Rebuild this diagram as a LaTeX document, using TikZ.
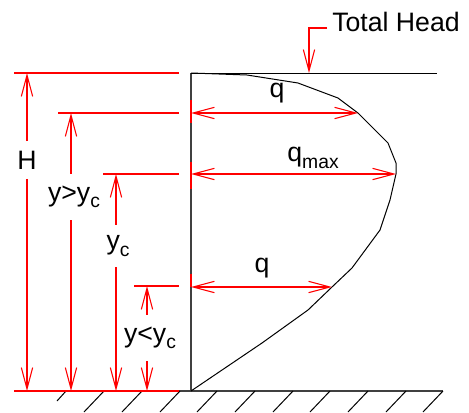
\documentclass[tikz,border=0pt]{standalone}
\usepackage{fontspec}
\setmainfont{Liberation Sans}
\usetikzlibrary{arrows.meta}
\newcommand\lowsub[1]{\raisebox{-0.45ex}{\fontsize{14.5pt}{14.5pt}\selectfont #1}}
\begin{document}
\begin{tikzpicture}[x=0.75pt,y=-0.75pt,
  dim/.style={red, line width=0.85pt},
  barb/.tip={Straight Barb[length=16pt,width=8.5pt,line width=0.8pt]},
  arr/.style={dim, -barb},
  darr/.style={dim, barb-barb},
  lbl/.style={font=\fontsize{20pt}{20pt}\selectfont, inner sep=0pt},
  vlbl/.style={lbl, inner ysep=7pt},
  thinline/.style={black, line width=0.75pt},
  wallline/.style={black!75, line width=1.1pt}]
\useasboundingbox (0,0) rectangle (469,412);

% ground
\coordinate (g1) at (49,391);
\coordinate (g2) at (443,391);
\draw[wallline] (g1) -- (g2);
\foreach \x/\n in {104/b,142/c,180/d,217/e,255/f,293/g,330/h,368/i,406/j,443/k}{
  \coordinate (h\n1) at (\x,391);
  \coordinate (h\n2) at (\x-20,412);
  \draw[thinline] (h\n1) -- (h\n2);
}
\coordinate (ha1) at (66,391);
\coordinate (ha2) at (57,401);
\draw[thinline] (ha1) -- (ha2);

% wall and top
\coordinate (wallT) at (191,73);
\coordinate (wallB) at (191,391);
\coordinate (topR) at (437,73);
\draw[wallline] (wallT) -- (wallB);
\draw[thinline] (wallT) -- (topR);

% velocity profile
\draw[thinline] (191,73) -- (247,75) -- (298,83) -- (338,98) -- (358,113)
  -- (373,128) -- (388,143) -- (396,163) -- (396,174) -- (390,200)
  -- (380,230) -- (352,268) -- (332,287) -- (308,310) -- (262,343) -- (191,391);

% extension lines
\coordinate (e1a) at (14,73);  \coordinate (e1b) at (179,73);
\coordinate (e2a) at (58,113); \coordinate (e2b) at (179,113);
\coordinate (e3a) at (103,174);\coordinate (e3b) at (179,174);
\coordinate (e4a) at (134,286);\coordinate (e4b) at (179,286);
\coordinate (e5a) at (14,391); \coordinate (e5b) at (179,391);
\draw[dim] (e1a) -- (e1b);
\draw[dim] (e2a) -- (e2b);
\draw[dim] (e3a) -- (e3b);
\draw[dim] (e4a) -- (e4b);
\draw[dim, line width=1.1pt] (e5a) -- (e5b);

% vertical dimensions
\node[vlbl] (Hl) at (27,160) {H};
\coordinate (Ht) at (27,73); \coordinate (Hb) at (27,391);
\draw[arr] (Hl.north) -- (Ht);
\draw[arr] (Hl.south) -- (Hb);

\coordinate (t2) at (71,113); \coordinate (b2) at (71,391);
\node[vlbl, inner ysep=9pt] (ygt) at (74,197) {y>y\lowsub{c}};
\draw[arr] (ygt.north -| t2) -- (t2);
\draw[arr] (ygt.south -| t2) -- (b2);

\coordinate (t3) at (116,174); \coordinate (b3) at (116,391);
\node[vlbl, inner ysep=8pt] (ycl) at (118,246) {y\lowsub{c}};
\draw[arr] (ycl.north -| t3) -- (t3);
\draw[arr] (ycl.south -| t3) -- (b3);

\coordinate (t4) at (147,286); \coordinate (b4) at (147,391);
\node[vlbl, inner ysep=9pt] (ylt) at (150,338) {y<y\lowsub{c}};
\draw[arr] (ylt.north -| t4) -- (t4);
\draw[arr] (ylt.south -| t4) -- (b4);

% ticks on wall
\coordinate (k1a) at (191,100); \coordinate (k1b) at (191,123);
\coordinate (k2a) at (191,162); \coordinate (k2b) at (191,189);
\coordinate (k3a) at (191,274); \coordinate (k3b) at (191,287);
\draw[dim, line width=1.1pt] (k1a) -- (k1b);
\draw[dim, line width=1.1pt] (k2a) -- (k2b);
\draw[dim, line width=1.1pt] (k3a) -- (k3b);

% discharge arrows
\coordinate (q1L) at (191,113); \coordinate (q1R) at (358,113);
\coordinate (qmL) at (191,174); \coordinate (qmR) at (396,174);
\coordinate (q2L) at (191,287); \coordinate (q2R) at (332,287);
\draw[darr] (q1L) -- (q1R);
\draw[darr] (qmL) -- (qmR);
\draw[darr] (q2L) -- (q2R);
\node[lbl] (q1) at (277,93) {q};
\node[lbl] (qm) at (313,158) {q\lowsub{max}};
\node[lbl] (q2) at (262,268) {q};

% total head
\node[lbl, anchor=west] (TH) at (332,22) {Total Head};
\coordinate (th1) at (327,28);
\coordinate (th2) at (309,28);
\coordinate (th3) at (309,73);
\draw[arr] (th1) -- (th2) -- (th3);
\end{tikzpicture}
\end{document}
